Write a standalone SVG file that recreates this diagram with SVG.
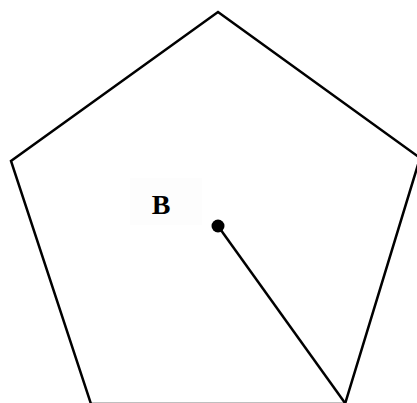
<svg xmlns="http://www.w3.org/2000/svg" width="417" height="403" viewBox="0 0 417 403">
<style>
.edge{fill:none;stroke:#000;stroke-width:2.5;stroke-linejoin:miter}
.lbl{font-family:"Liberation Serif",serif;font-weight:bold;font-size:28px;fill:#000}
</style>
<rect width="417" height="403" fill="#fff"/>
<g id="pentagon">
<polygon class="edge" points="218,12 420,158 345,404 91,404 11,161"/>
</g>
<g id="connectors">
<line class="edge" x1="218" y1="226" x2="345" y2="403"/>
</g>
<g id="center">
<circle cx="218" cy="226" r="6.5" fill="#000"/>
</g>
<g id="label-B">
<rect x="130" y="178" width="72" height="47" fill="#fdfdfd"/>
<text class="lbl" x="161" y="214" text-anchor="middle">B</text>
</g>
</svg>
